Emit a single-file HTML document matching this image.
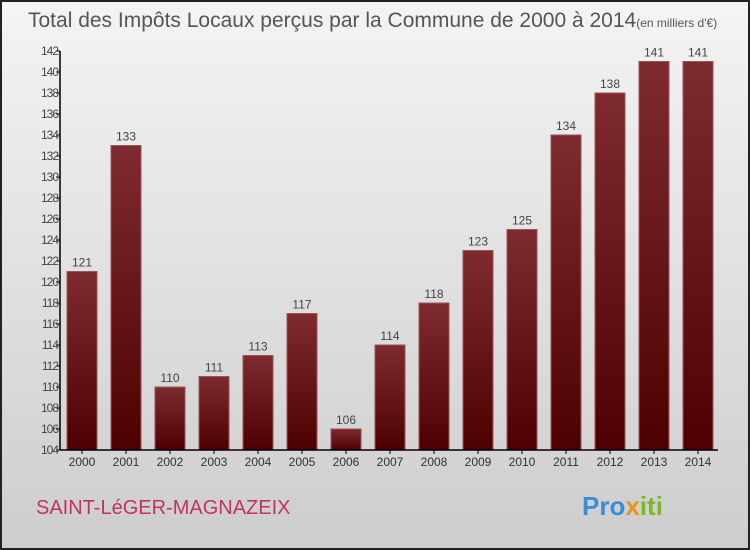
<!DOCTYPE html>
<html><head><meta charset="utf-8"><style>
body{margin:0}
#c{width:750px;height:550px;position:relative;overflow:hidden;font-family:"Liberation Sans",sans-serif;}
</style></head><body>
<div id="c">
<svg width="750" height="550">
<defs>
<linearGradient id="bg" x1="0" y1="0" x2="0" y2="1"><stop offset="0" stop-color="#f4f4f4"/><stop offset="1" stop-color="#cdcdcd"/></linearGradient>
<linearGradient id="bar" x1="0" y1="0" x2="0" y2="1"><stop offset="0" stop-color="#7e2b30"/><stop offset="1" stop-color="#4e0000"/></linearGradient>
</defs>
<rect x="1" y="1" width="748" height="548" fill="url(#bg)" stroke="#222" stroke-width="2"/>
<text x="28" y="27" font-size="21" fill="#555">Total des Impôts Locaux perçus par la Commune de 2000 à 2014<tspan font-size="12">(en milliers d'€)</tspan></text>
<g id="plot"></g>
<text x="36" y="514" font-size="20" fill="#c0355e">SAINT-LéGER-MAGNAZEIX</text>
<text x="582" y="515" font-size="26" font-weight="bold"><tspan fill="#3a8ed8">Pro</tspan><tspan fill="#e8941a">x</tspan><tspan fill="#7ab828">iti</tspan></text>
</svg>
</div>
<script>
const categories=["2000","2001","2002","2003","2004","2005","2006","2007","2008","2009","2010","2011","2012","2013","2014"];
const values=[121,133,110,111,113,117,106,114,118,123,125,134,138,141,141];
const yTicks=[104,106,108,110,112,114,116,118,120,122,124,126,128,130,132,134,136,138,140,142];
const ns="http://www.w3.org/2000/svg";
const g=document.getElementById('plot');
const x0=60,yMin=104,yMax=142,yTop=51,yBot=450;
const y=v=>yBot-(v-yMin)/(yMax-yMin)*(yBot-yTop);
const xc=i=>82+i*44;
function mk(t,a){const e=document.createElementNS(ns,t);for(const k in a)e.setAttribute(k,a[k]);g.appendChild(e);return e;}
values.forEach((v,i)=>{
 const r=mk('rect',{x:xc(i)-15,y:y(v),width:30,height:yBot-y(v),fill:'url(#bar)',stroke:'#9a5558','stroke-width':1});
 
 
 const t=mk('text',{x:xc(i),y:y(v)-5,'font-size':12,'text-anchor':'middle',fill:'#444'});
 t.textContent=v;
 
 
 const c=mk('text',{x:xc(i),y:466,'font-size':12,'text-anchor':'middle',fill:'#333'});
 c.textContent=categories[i];
 
 
});
yTicks.forEach(v=>{
 const l=mk('line',{x1:x0-4,x2:x0,y1:y(v),y2:y(v),stroke:'#000'});
 
 
 const t=mk('text',{x:x0-2,y:y(v)+4,'font-size':12,'text-anchor':'end',fill:'#444','letter-spacing':'-1'});
 t.textContent=v;
 
 
});
const ya=mk('line',{x1:x0,x2:x0,y1:yTop,y2:yBot,stroke:'#000','stroke-width':1.5});


const xa=mk('line',{x1:x0,x2:718,y1:yBot,y2:yBot,stroke:'#000','stroke-width':1.5});


categories.forEach((c,i)=>{const l=mk('line',{x1:xc(i),x2:xc(i),y1:yBot,y2:yBot+4,stroke:'#000'});
 
 });
</script>
</body></html>
